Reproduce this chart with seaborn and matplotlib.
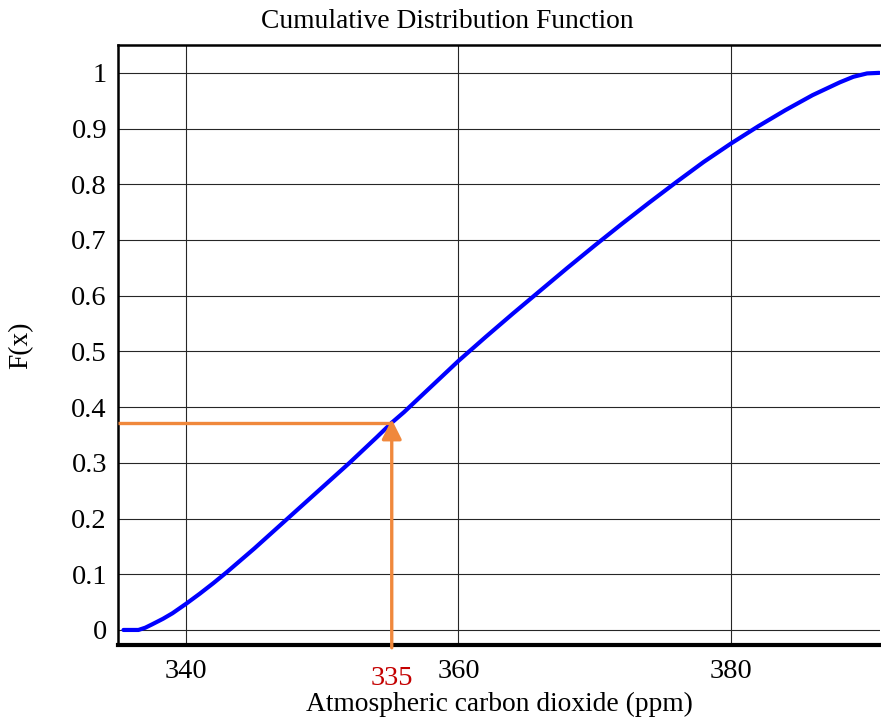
import matplotlib
matplotlib.use("Agg")
import matplotlib.pyplot as plt
import seaborn as sns
import pandas as pd
from matplotlib.ticker import MultipleLocator, FixedLocator

# ---- data ----
co2_ppm = [335.4, 336.5, 337.0, 337.5, 338.3, 339.0, 340.0, 341.0, 342.0, 343.0,
           344.0, 345.0, 346.0, 347.0, 348.0, 349.0, 350.0, 352.0, 354.0, 355.1,
           356.0, 358.0, 360.0, 362.0, 364.0, 366.0, 368.0, 370.0, 372.0, 374.0,
           376.0, 378.0, 380.0, 382.0, 384.0, 386.0, 388.0, 389.0, 390.0, 390.9]
cdf_vals = [0.0, 0.0, 0.004, 0.010, 0.020, 0.030, 0.047, 0.065, 0.084, 0.104,
            0.125, 0.146, 0.168, 0.190, 0.212, 0.234, 0.256, 0.300, 0.346, 0.372,
            0.391, 0.437, 0.483, 0.526, 0.568, 0.609, 0.650, 0.690, 0.729, 0.767,
            0.804, 0.840, 0.873, 0.904, 0.933, 0.960, 0.983, 0.993, 0.999, 1.0]
x_major_ticks = [340, 360, 380]
y_major_ticks = [0, 0.1, 0.2, 0.3, 0.4, 0.5, 0.6, 0.7, 0.8, 0.9, 1.0]
y_tick_labels = ["0", "0.1", "0.2", "0.3", "0.4", "0.5", "0.6", "0.7", "0.8", "0.9", "1"]
marker_x = 355.1
marker_y = 0.372
marker_label = "335"

df = pd.DataFrame({"co2": co2_ppm, "F": cdf_vals})

sns.set_theme(style="white")
plt.rcParams["font.family"] = ["Liberation Serif", "DejaVu Serif"]

fig = plt.figure(figsize=(8.81, 7.21), dpi=100)
ax = fig.add_axes([118 / 881, 76 / 721, 762 / 881, 600 / 721])

sns.lineplot(data=df, x="co2", y="F", ax=ax, color="#0000ff", linewidth=3.0,
             zorder=5, estimator=None, sort=False)

xmin, xmax = 335.0, 390.95
ymin, ymax = -0.027, 1.05
ax.set_xlim(xmin, xmax)
ax.set_ylim(ymin, ymax)

ax.xaxis.set_major_locator(FixedLocator(x_major_ticks))
ax.xaxis.set_minor_locator(MultipleLocator(5))
ax.yaxis.set_major_locator(FixedLocator(y_major_ticks))
ax.yaxis.set_minor_locator(MultipleLocator(0.025))
ax.set_yticklabels(y_tick_labels)
ax.grid(True, which="major", color="0.15", linewidth=0.8, zorder=0)
ax.set_axisbelow(True)

ax.tick_params(axis="both", which="major", labelsize=20.5, colors="0.45",
               labelcolor="black", length=7, width=1.2, direction="out")
ax.tick_params(axis="both", which="minor", colors="0.45", length=4.5, width=1.2,
               direction="out")
ax.tick_params(axis="x", which="major", pad=3)
ax.tick_params(axis="y", which="major", pad=1)

for side in ["left", "top"]:
    ax.spines[side].set_visible(True)
    ax.spines[side].set_color("black")
    ax.spines[side].set_linewidth(1.8)
ax.spines["bottom"].set_color("black")
ax.spines["bottom"].set_linewidth(3.0)
ax.spines["right"].set_visible(False)

# orange guide lines
ax.plot([xmin, marker_x], [marker_y, marker_y], color="#f0883c", linewidth=2.4,
        zorder=6, solid_capstyle="butt")
ax.annotate("", xy=(marker_x, marker_y + 0.006), xytext=(marker_x, ymin - 0.005),
            arrowprops=dict(arrowstyle="-|>,head_length=0.6,head_width=0.3",
                            color="#f0883c", linewidth=2.4, shrinkA=0, shrinkB=0,
                            mutation_scale=20),
            zorder=7, annotation_clip=False)
ax.text(marker_x, -0.088, marker_label, color="#c40000", fontsize=20.5,
        ha="center", va="center", transform=ax.transData, clip_on=False)

ax.set_xlabel("Atmospheric carbon dioxide (ppm)", fontsize=19.8, color="black")
ax.xaxis.set_label_coords(0.5, -(692 - 645) / 600)
ax.set_ylabel("F(x)", fontsize=19.8, color="black")
ax.yaxis.set_label_coords(-(118 - 33) / 762, 0.5)
fig.text(447 / 881, 1 - 21 / 721, "Cumulative Distribution Function",
         fontsize=19.8, ha="center", va="center", color="black")

fig.savefig("out.png", dpi=100)
